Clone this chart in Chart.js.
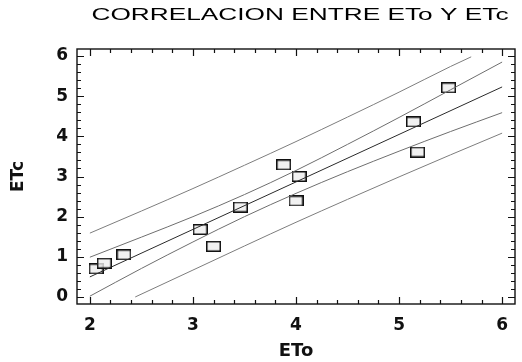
<!DOCTYPE html>
<html>
<head>
<meta charset="utf-8">
<script src="https://cdn.jsdelivr.net/npm/chart.js@4"></script>
<style>
  body { margin: 0; background: #fff; }
  #wrap { width: 522px; height: 362px; }
</style>
</head>
<body>
<div id="wrap"><canvas id="grafico" width="522" height="362"></canvas></div>
<script>
// datos observados
const etoObs = [2.06, 2.14, 2.33, 3.07, 3.20, 3.46, 3.88, 4.03, 4.00, 5.14, 5.18, 5.48];
const etcObs = [0.70, 0.84, 1.05, 1.68, 1.26, 2.24, 3.29, 3.00, 2.39, 4.36, 3.61, 5.21];

// recta ajustada
const ajusteX = [2, 6];
const ajusteY = [0.50, 5.23];

// limites de confianza (interiores)
const bandaX = [2, 2.5, 3, 3.5, 4, 4.5, 5, 5.5, 6];
const confSup = [0.99, 1.49, 2.00, 2.55, 3.15, 3.80, 4.47, 5.16, 5.85];
const confInf = [0.02, 0.71, 1.37, 2.00, 2.58, 3.12, 3.63, 4.12, 4.59];

// limites de prediccion (exteriores)
const predSupX = [2, 2.5, 3, 3.5, 4, 4.5, 5, 5.5, 5.7];
const predSup = [1.59, 2.14, 2.70, 3.28, 3.87, 4.48, 5.10, 5.74, 5.98];
const predInfX = [2.44, 3, 3.5, 4, 4.5, 5, 5.5, 6];
const predInf = [0.00, 0.67, 1.27, 1.86, 2.43, 2.99, 3.54, 4.08];

// ejes
const xTicks = [2, 3, 4, 5, 6];
const yTicks = [0, 1, 2, 3, 4, 5, 6];
const titulo = "CORRELACION ENTRE ETo Y ETc";

const pares = (xs, ys) => xs.map((x, i) => ({ x: x, y: ys[i] }));

// marcador rectangular
const marca = document.createElement("canvas");
marca.width = 15;
marca.height = 11;
const mctx = marca.getContext("2d");
mctx.fillStyle = "rgba(238,238,238,0.8)";
mctx.fillRect(1, 1, 13, 9);
mctx.strokeStyle = "#111";
mctx.lineWidth = 1.5;
mctx.strokeRect(0.75, 0.75, 13.5, 9.5);

function linea(data, color) {
    return {
        type: "line",
        data: data,
        borderColor: color,
        borderWidth: 1,
        pointRadius: 0,
        fill: false,
        cubicInterpolationMode: "monotone"
    };
}

// marco y marcas de los ejes hacia dentro
const marcoPlugin = {
    id: "marco",
    afterDraw(chart) {
        const ctx = chart.ctx;
        const a = chart.chartArea;
        const sx = chart.scales.x, sy = chart.scales.y;
        ctx.save();
        ctx.strokeStyle = "#111";
        ctx.lineWidth = 1.4;
        ctx.strokeRect(a.left, a.top, a.right - a.left, a.bottom - a.top);
        ctx.lineWidth = 1.2;
        ctx.beginPath();
        for (let i = 0; i <= 20; i++) {
            const px = Math.round(sx.getPixelForValue(2 + i * 0.2)) + 0.5;
            const len = i % 5 === 0 ? 7 : 4;
            ctx.moveTo(px, a.bottom);
            ctx.lineTo(px, a.bottom - len);
            ctx.moveTo(px, a.top);
            ctx.lineTo(px, a.top + len);
        }
        for (let i = 0; i <= 30; i++) {
            const py = Math.round(sy.getPixelForValue(i * 0.2)) + 0.5;
            const len = i % 5 === 0 ? 7 : 4;
            ctx.moveTo(a.left, py);
            ctx.lineTo(a.left + len, py);
            ctx.moveTo(a.right, py);
            ctx.lineTo(a.right - len, py);
        }
        ctx.stroke();

        // titulo ensanchado
        ctx.font = '16px "Liberation Sans", Arial, sans-serif';
        ctx.fillStyle = "#000";
        ctx.textAlign = "center";
        ctx.textBaseline = "middle";
        const w = ctx.measureText(titulo).width;
        ctx.translate(300, 16);
        ctx.scale(417 / w, 1);
        ctx.fillText(titulo, 0, 0);
        ctx.restore();
    }
};

new Chart(document.getElementById("grafico"), {
    type: "scatter",
    data: {
        datasets: [
            linea(pares(predSupX, predSup), "#7d7d7d"),
            linea(pares(bandaX, confSup), "#6e6e6e"),
            linea(pares(ajusteX, ajusteY), "#2a2a2a"),
            linea(pares(bandaX, confInf), "#6e6e6e"),
            linea(pares(predInfX, predInf), "#7d7d7d"),
            {
                data: pares(etoObs, etcObs),
                pointStyle: marca,
                pointRadius: 6,
                showLine: false
            }
        ]
    },
    options: {
        responsive: false,
        animation: false,
        layout: { padding: { top: 49, right: 1, left: 0, bottom: 0 } },
        plugins: {
            legend: { display: false },
            tooltip: { enabled: false }
        },
        scales: {
            x: {
                type: "linear",
                min: 1.875,
                max: 6.125,
                afterBuildTicks: s => { s.ticks = xTicks.map(v => ({ value: v })); },
                afterFit: s => { s.height = 58; },
                grid: { display: false, drawTicks: false },
                border: { display: false },
                ticks: {
                    padding: 11,
                    color: "#111",
                    font: { family: "DejaVu Sans", size: 17, weight: "bold" },
                    callback: v => String(v)
                },
                title: {
                    display: true,
                    text: "ETo",
                    color: "#111",
                    padding: { top: 4, bottom: 0 },
                    font: { family: "DejaVu Sans", size: 18, weight: "bold" }
                }
            },
            y: {
                type: "linear",
                min: -0.175,
                max: 6.175,
                afterBuildTicks: s => { s.ticks = yTicks.map(v => ({ value: v })); },
                afterFit: s => { s.width = 77; },
                grid: { display: false, drawTicks: false },
                border: { display: false },
                ticks: {
                    padding: 9,
                    color: "#111",
                    font: { family: "DejaVu Sans", size: 17, weight: "bold" },
                    callback: v => String(v)
                },
                title: {
                    display: true,
                    text: "ETc",
                    color: "#111",
                    padding: { top: 8, bottom: 0 },
                    font: { family: "DejaVu Sans", size: 17, weight: "bold" }
                }
            }
        }
    },
    plugins: [marcoPlugin]
});
</script>
</body>
</html>
